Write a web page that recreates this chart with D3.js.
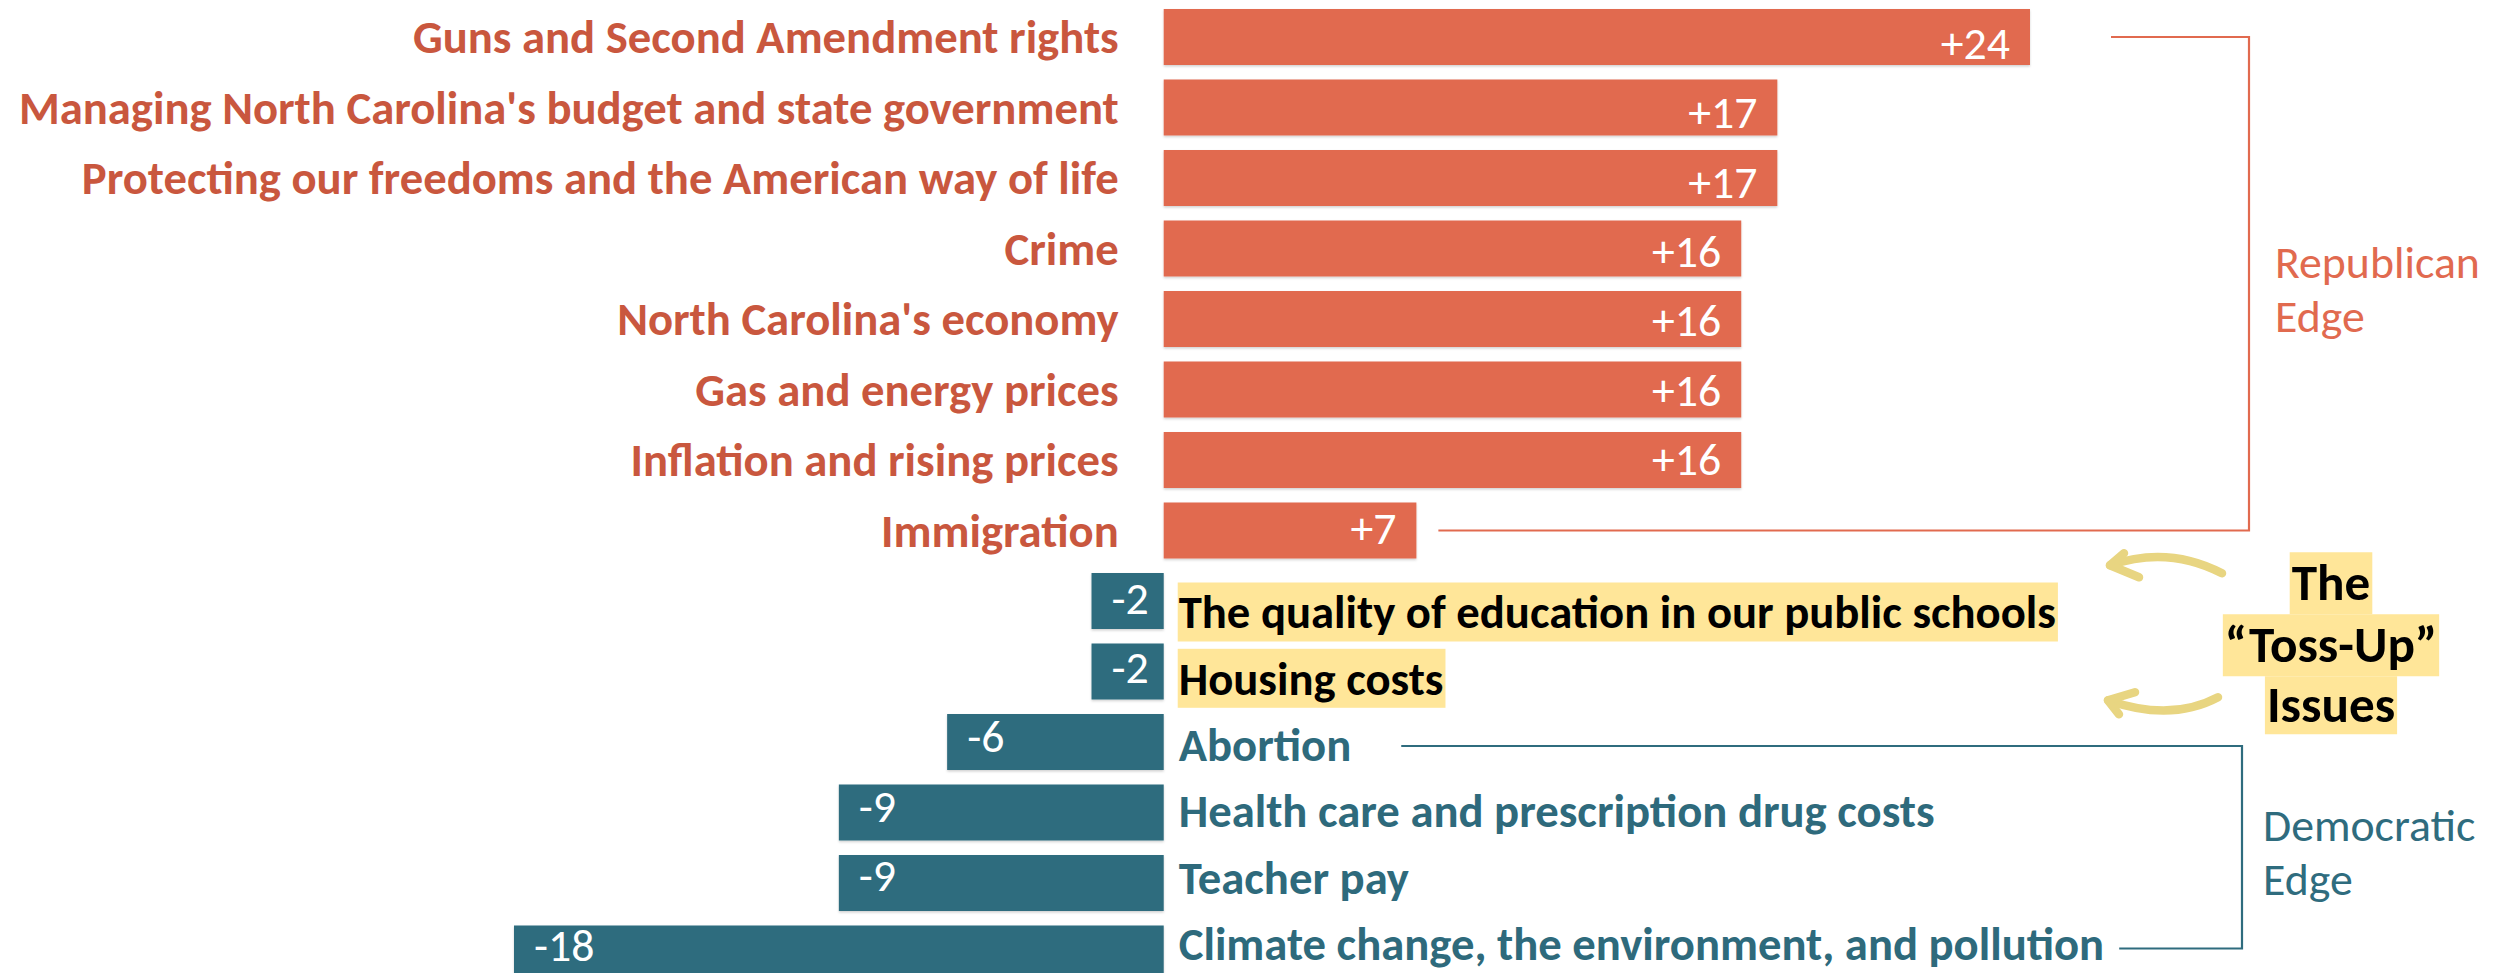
<!DOCTYPE html>
<html><head><meta charset="utf-8">
<script src="https://cdn.jsdelivr.net/npm/d3@7"></script>
<style>body{margin:0;background:#fff}svg{display:block}</style>
</head><body>
<script>
// ---- data ----
const categories = [
  "Guns and Second Amendment rights",
  "Managing North Carolina's budget and state government",
  "Protecting our freedoms and the American way of life",
  "Crime",
  "North Carolina's economy",
  "Gas and energy prices",
  "Inflation and rising prices",
  "Immigration",
  "The quality of education in our public schools",
  "Housing costs",
  "Abortion",
  "Health care and prescription drug costs",
  "Teacher pay",
  "Climate change, the environment, and pollution"
];
const values = [24, 17, 17, 16, 16, 16, 16, 7, -2, -2, -6, -9, -9, -18];
const valueLabels = ["+24","+17","+17","+16","+16","+16","+16","+7","-2","-2","-6","-9","-9","-18"];
const tossUpIssues = ["The quality of education in our public schools", "Housing costs"];
const republicanLabel = ["Republican", "Edge"];
const democraticLabel = ["Democratic", "Edge"];
const tossUpTitle = ["The", "\u201CToss-Up\u201D", "Issues"];

// ---- styles ----
const W = 2514, H = 973;
const C = {
  rep: "#E16A4F", repText: "#C9573E",
  dem: "#2F6C7E", demText: "#2E6A7C",
  hi: "#FFE699", arrow: "#E8D581"
};
const FONT = "Calibri, Carlito, Lato, 'Open Sans', sans-serif";

const svg = d3.select("body").append("svg").attr("width", W).attr("height", H);

// font fitting (substitute font widths to original layout)
function measure(str, weight, size) {
  const t = svg.append("text").attr("font-family", FONT).attr("font-weight", weight)
    .attr("font-size", size).text(str);
  const w = t.node().getComputedTextLength(); t.remove(); return w;
}
const labelSize = 100 * 1100 / measure(categories[1], 700, 100);
const regSize = 100 * 205 / measure("Republican", 400, 100);
const tossSize = labelSize * 51 / 46.5;

// ---- scales ----
const x = d3.scaleLinear().domain([-18, 24]).range([514, 2030]);
const y = d3.scaleBand().domain(categories).range([1.75, 988.75])
  .paddingInner(0.2057).paddingOuter(0.1028);
const cy = d => y(d) + y.bandwidth() / 2;

const data = categories.map((c, i) => ({ c, v: values[i], lab: valueLabels[i] }));
const demCats = categories.filter((c, i) => values[i] < 0);
// right-hand label column is slightly tighter than the bar rows
const yR = d3.scalePoint().domain(demCats)
  .range([cy(demCats[0]) + 11, cy(demCats[demCats.length - 1]) - 10]);
const labelY = d => d.v > 0 ? cy(d.c) : yR(d.c);
// value-label rows (text layer a little tighter than the bars)
const yV = d3.scalePoint().domain(categories)
  .range([cy(categories[0]) + 6, cy(categories[categories.length - 1]) - 9]);

const defs = svg.append("defs");
const f = defs.append("filter").attr("id", "sh").attr("x", "-5%").attr("y", "-20%").attr("width", "110%").attr("height", "150%");
f.append("feDropShadow").attr("dx", 0).attr("dy", 1.5).attr("stdDeviation", 1).attr("flood-color", "#000").attr("flood-opacity", 0.18);

// ---- bars ----
svg.append("g").selectAll("rect").data(data).join("rect")
  .attr("x", d => x(Math.min(0, d.v)))
  .attr("width", d => Math.abs(x(d.v) - x(0)))
  .attr("y", d => y(d.c))
  .attr("height", y.bandwidth())
  .attr("fill", d => d.v > 0 ? C.rep : C.dem)
  .attr("filter", "url(#sh)");

// ---- value labels ----
svg.append("g").selectAll("text").data(data).join("text")
  .attr("x", d => d.v > 0 ? x(d.v) - 20 : x(d.v) + 20)
  .attr("y", d => yV(d.c))
  .attr("dy", "0.35em")
  .attr("text-anchor", d => d.v > 0 ? "end" : "start")
  .attr("font-family", FONT).attr("font-size", regSize).attr("fill", "#fff")
  .text(d => d.lab);

// ---- category labels ----
const catG = svg.append("g");
const hiG = catG.append("g");
const labels = catG.selectAll("text").data(data).join("text")
  .attr("x", d => d.v > 0 ? x(0) - 45 : x(0) + 15)
  .attr("y", labelY)
  .attr("dy", "0.35em")
  .attr("text-anchor", d => d.v > 0 ? "end" : "start")
  .attr("font-family", FONT).attr("font-weight", 700).attr("font-size", labelSize)
  .attr("fill", d => tossUpIssues.includes(d.c) ? "#000" : (d.v > 0 ? C.repText : C.demText))
  .text(d => d.c);

// highlight boxes behind toss-up labels
labels.filter(d => tossUpIssues.includes(d.c)).each(function(d) {
  const b = this.getBBox();
  const mid = labelY(d);
  hiG.append("rect").attr("x", b.x - 1).attr("width", b.width + 3)
    .attr("y", mid - 29.5).attr("height", 59).attr("fill", C.hi);
});

function labelEnd(cat) {
  const n = labels.filter(d => d.c === cat).node();
  const b = n.getBBox(); return b.x + b.width;
}

// ---- brackets ----
const br = svg.append("g").attr("fill", "none").attr("stroke-width", 2.2);
const repX = x(24) + 219;
const repTop = cy(categories[0]), repBot = cy(categories[7]);
br.append("path").attr("stroke", C.rep)
  .attr("d", `M${x(24) + 81},${repTop}H${repX}V${repBot}H${x(7) + 22}`);

const demX = x(24) + 212;
const demTop = cy(categories[10]) + 4, demBot = cy(categories[13]) - 5;
br.append("path").attr("stroke", C.dem)
  .attr("d", `M${labelEnd(categories[10]) + 50},${demTop}H${demX}V${demBot}H${labelEnd(categories[13]) + 15}`);

function edgeLabel(lines, x0, mid, color) {
  const t = svg.append("text").attr("font-family", FONT).attr("font-size", regSize).attr("fill", color);
  lines.forEach((s, i) => t.append("tspan").attr("x", x0).attr("y", mid - 6 + i * 54).text(s));
}
edgeLabel(republicanLabel, repX + 26, (repTop + repBot) / 2, C.rep);
edgeLabel(democraticLabel, demX + 21, (demTop + demBot) / 2, C.dem);

// ---- toss-up annotation ----
const tx = x(24) + 301;
const tmid = (cy(categories[8]) + cy(categories[9])) / 2;
const tg = svg.append("g");
const tbg = tg.append("g");
const baseY = [-36, 26, 86];
const boxes = [[-84, -22], [-22, 40], [40, 98]];
tossUpTitle.forEach((s, i) => {
  const t = tg.append("text").attr("x", tx).attr("y", tmid + baseY[i])
    .attr("text-anchor", "middle").attr("font-family", FONT).attr("font-weight", 700)
    .attr("font-size", tossSize).attr("fill", "#000").text(s);
  const b = t.node().getBBox();
  tbg.append("rect").attr("x", b.x - 2).attr("width", b.width + 4)
    .attr("y", tmid + boxes[i][0]).attr("height", boxes[i][1] - boxes[i][0]).attr("fill", C.hi);
});

// arrows
const ag = svg.append("g").attr("fill", "none").attr("stroke", C.arrow)
  .attr("stroke-width", 8.5).attr("stroke-linecap", "round").attr("stroke-linejoin", "round");
const arrows = [
  { s: [-109, -63], c: [-163, -91], t: [-221, -71], b1: [-207, -83], b2: [-192, -59] },
  { s: [-113, 61], c: [-160, 86], t: [-223, 64], b1: [-196, 56], b2: [-212, 78] }
];
arrows.forEach(a => {
  const P = p => `${tx + p[0]},${tmid + p[1]}`;
  ag.append("path").attr("d", `M${P(a.s)}Q${P(a.c)} ${P(a.t)}`);
  ag.append("path").attr("d", `M${P(a.b1)}L${P(a.t)}L${P(a.b2)}`);
});
</script>
</body></html>
